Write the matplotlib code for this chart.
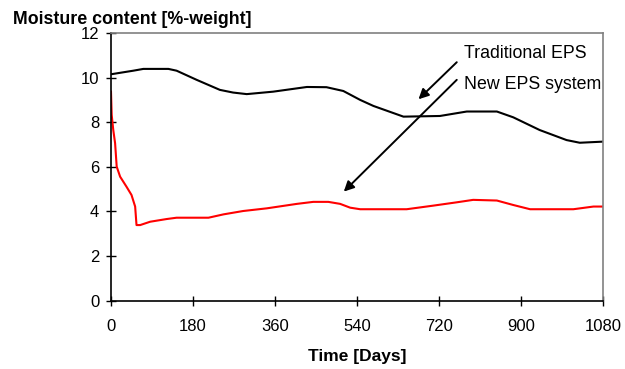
import matplotlib
matplotlib.use("Agg")
import matplotlib.pyplot as plt

plt.rcParams['font.family'] = ['Liberation Sans', 'DejaVu Sans']

# Traditional EPS: moisture content over time
trad_days = [0, 49, 71, 126, 144, 188, 239, 268, 298, 356, 430, 473, 510,
             547, 576, 642, 722, 781, 847, 883, 941, 1000, 1029, 1080]
trad_moist = [10.15, 10.31, 10.39, 10.39, 10.31, 9.90, 9.45, 9.33, 9.26, 9.37,
              9.58, 9.57, 9.40, 9.0, 8.73, 8.25, 8.28, 8.48, 8.48, 8.22,
              7.65, 7.20, 7.08, 7.13]

# New EPS system: moisture content over time
new_days = [0, 1.5, 5, 9, 12.5, 20, 34, 45, 53, 56, 64, 86, 122, 144, 214,
            247, 290, 342, 408, 444, 477, 503, 525, 547, 649, 707, 759, 795,
            847, 883, 920, 1015, 1059, 1080]
new_moist = [9.37, 8.33, 7.65, 7.06, 6.01, 5.56, 5.11, 4.74, 4.22, 3.39, 3.39,
             3.54, 3.66, 3.72, 3.72, 3.87, 4.02, 4.14, 4.34, 4.43, 4.43, 4.34,
             4.17, 4.10, 4.10, 4.26, 4.41, 4.52, 4.49, 4.29, 4.10, 4.10, 4.22,
             4.22]

x_ticks = [0, 180, 360, 540, 720, 900, 1080]
y_ticks = [0, 2, 4, 6, 8, 10, 12]

fig = plt.figure(figsize=(6.25, 3.69), dpi=100)
ax = fig.add_axes([0.1776, 0.1851, 0.7872, 0.7255])

ax.plot(trad_days, trad_moist, color='black', lw=1.5)
ax.plot(new_days, new_moist, color='#ff0000', lw=1.5)

ax.set_xlim(0, 1080)
ax.set_ylim(0, 12)
ax.set_xticks(x_ticks)
ax.set_yticks(y_ticks)
ax.tick_params(direction='inout', length=7, width=1, labelsize=12,
               colors='black', pad=5)
ax.tick_params(axis='x', pad=9.5)

for side in ('left', 'bottom'):
    ax.spines[side].set_color('black')
    ax.spines[side].set_linewidth(1.2)
for side in ('top', 'right'):
    ax.spines[side].set_color('#808080')
    ax.spines[side].set_linewidth(1.2)

ax.set_xlabel('Time [Days]', fontsize=12.5, fontweight='bold', labelpad=11)
fig.text(13 / 625, 1 - 19.5 / 369, 'Moisture content [%-weight]',
         fontsize=12.8, fontweight='bold', va='center', ha='left')

arrow = dict(arrowstyle='-|>', color='black', lw=1.4, mutation_scale=15,
             shrinkA=0, shrinkB=0)
ax.annotate('', xy=(675, 9.03), xytext=(759, 10.69), arrowprops=arrow)
ax.annotate('', xy=(511, 4.89), xytext=(759, 9.90), arrowprops=arrow)
ax.text(775, 11.06, 'Traditional EPS', fontsize=12.8, va='center', ha='left')
ax.text(775, 9.67, 'New EPS system', fontsize=12.8, va='center', ha='left',
        clip_on=False)

fig.savefig('out.png', dpi=100)
